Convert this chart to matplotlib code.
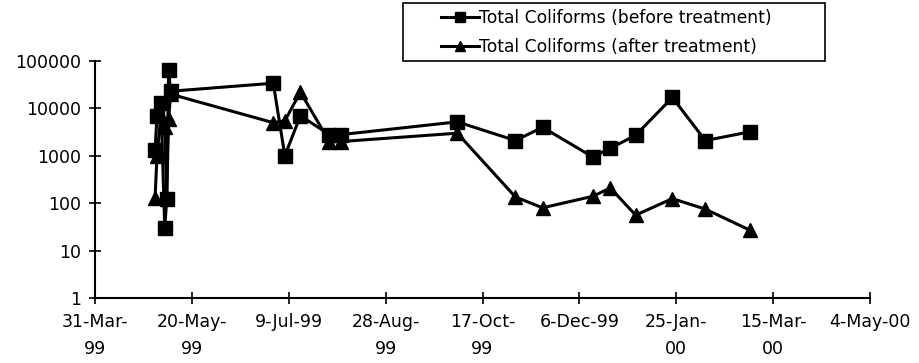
import matplotlib
matplotlib.use('Agg')
import matplotlib.pyplot as plt
import matplotlib.dates as mdates
from matplotlib.patches import Rectangle
from datetime import datetime

plt.rcParams['font.family'] = ['DejaVu Sans']

# sampling dates and coliform counts
sample_dates = ['1999-05-01', '1999-05-02', '1999-05-04', '1999-05-06', '1999-05-07',
                '1999-05-08', '1999-05-09', '1999-07-01', '1999-07-07', '1999-07-15',
                '1999-07-30', '1999-08-05', '1999-10-04', '1999-11-03', '1999-11-17',
                '1999-12-13', '1999-12-22', '2000-01-04', '2000-01-23', '2000-02-09',
                '2000-03-03']
before = [1300, 7000, 13000, 30, 120, 65000, 23000, 34000, 1000, 7000,
          2800, 2800, 5200, 2100, 4000, 940, 1450, 2700, 17000, 2100, 3200]
after = [130, 1000, 7000, 4000, 130, 6000, 20000, 5000, 5500, 22000,
         2000, 2000, 3000, 135, 80, 140, 210, 56, 125, 75, 27]

tick_dates = ['1999-03-31', '1999-05-20', '1999-07-09', '1999-08-28', '1999-10-17',
              '1999-12-06', '2000-01-25', '2000-03-15', '2000-05-04']
tick_labels = ['31-Mar-\n99', '20-May-\n99', '9-Jul-99', '28-Aug-\n99', '17-Oct-\n99',
               '6-Dec-99', '25-Jan-\n00', '15-Mar-\n00', '4-May-00']

y_ticks = [1, 10, 100, 1000, 10000, 100000]

x = mdates.date2num([datetime.strptime(d, '%Y-%m-%d') for d in sample_dates])
xt = mdates.date2num([datetime.strptime(d, '%Y-%m-%d') for d in tick_dates])

W, H = 919, 363
fig = plt.figure(figsize=(W / 100, H / 100), dpi=100)
ax = fig.add_axes([95 / W, 1 - 298 / H, (870 - 95) / W, (298 - 61) / H])

l1, = ax.plot(x, before, color='black', lw=2.2, marker='s', ms=9.5,
              label='Total Coliforms (before treatment)')
l2, = ax.plot(x, after, color='black', lw=2.2, marker='^', ms=10,
              label='Total Coliforms (after treatment)')

ax.set_yscale('log')
ax.set_ylim(1, 100000)
ax.set_yticks(y_ticks)
ax.set_yticklabels([str(v) for v in y_ticks])
ax.yaxis.set_minor_locator(matplotlib.ticker.NullLocator())

ax.set_xlim(xt[0], xt[-1])
ax.set_xticks(xt)
ax.set_xticklabels(tick_labels, linespacing=1.6)

ax.tick_params(axis='both', direction='inout', length=8, width=1.2,
               labelsize=12.5, color='black')
ax.tick_params(axis='x', pad=7)
ax.tick_params(axis='y', pad=6)

for s in ['top', 'right']:
    ax.spines[s].set_visible(False)
for s in ['left', 'bottom']:
    ax.spines[s].set_linewidth(1.5)
    ax.spines[s].set_color('black')
ax.spines['left'].set_zorder(0)

# legend box
fig.patches.append(Rectangle((403 / W, 1 - 61 / H), (825 - 403) / W, 58 / H,
                             transform=fig.transFigure, fill=False,
                             edgecolor='black', lw=1.2))
fig.legend(handles=[l1, l2], loc='upper left',
           bbox_to_anchor=(429 / W, 1 + 3 / H), frameon=False,
           fontsize=12.3, handlelength=2.2, handletextpad=0.05,
           labelspacing=0.62, markerscale=0.7, borderpad=0.2)

fig.savefig('out.png', dpi=100)
